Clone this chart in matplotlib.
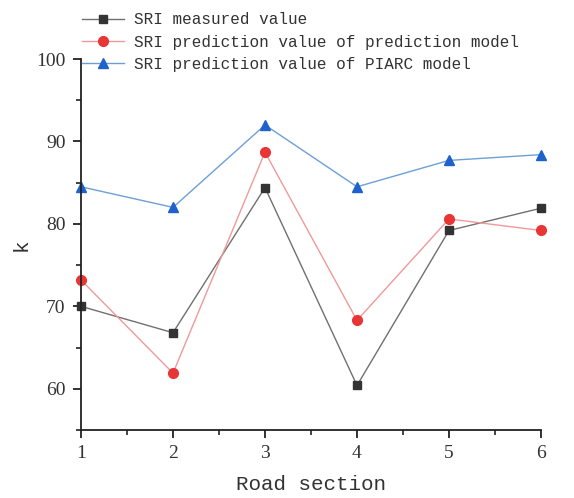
import matplotlib
matplotlib.use("Agg")
import matplotlib.pyplot as plt
from matplotlib.ticker import MultipleLocator

sections = [1, 2, 3, 4, 5, 6]
measured = [70.0, 66.8, 84.4, 60.4, 79.2, 81.9]
pred_model = [73.2, 61.9, 88.7, 68.3, 80.6, 79.2]
piarc_model = [84.5, 82.0, 92.0, 84.5, 87.7, 88.4]

labels = ["SRI measured value",
          "SRI prediction value of prediction model",
          "SRI prediction value of PIARC model"]

fig = plt.figure(figsize=(5.74, 4.98), dpi=100)
ax = fig.add_axes([81 / 574, 68 / 498, 460 / 574, 371 / 498])

ax.plot(sections, measured, color="#707070", lw=1, marker="s", ms=6,
        mfc="#333333", mec="#333333", label=labels[0], clip_on=False)
ax.plot(sections, pred_model, color="#ee9a9a", lw=1, marker="o", ms=7,
        mfc="#e83535", mec="#e83535", label=labels[1], clip_on=False)
ax.plot(sections, piarc_model, color="#6d9fd6", lw=1, marker="^", ms=7,
        mfc="#1f62cc", mec="#1f62cc", label=labels[2], clip_on=False)

ax.set_xlim(1, 6)
ax.set_ylim(55, 100)
ax.xaxis.set_major_locator(MultipleLocator(1))
ax.xaxis.set_minor_locator(MultipleLocator(0.5))
ax.yaxis.set_major_locator(MultipleLocator(10))
ax.yaxis.set_minor_locator(MultipleLocator(5))
ax.spines["top"].set_visible(False)
ax.spines["right"].set_visible(False)
for s in ["left", "bottom"]:
    ax.spines[s].set_linewidth(1.3)
    ax.spines[s].set_color("#222222")
ax.tick_params(which="major", length=6, width=1.3, direction="out", colors="#222222",
               labelsize=14, pad=5)
ax.tick_params(which="minor", length=3.5, width=1.2, direction="out", colors="#222222")
for lab in ax.get_xticklabels() + ax.get_yticklabels():
    lab.set_family("Liberation Serif")
    lab.set_color("#333333")

ax.set_xlabel("Road section", family="Liberation Mono", fontsize=15, color="#333333", labelpad=9)
ax.set_ylabel("k", family="Liberation Mono", fontsize=15, color="#333333", labelpad=4)

fig.legend(loc="upper left", bbox_to_anchor=(76 / 574, 1 - 6 / 498), frameon=False,
           prop={"family": "Liberation Mono", "size": 11.5}, handlelength=2.6,
           handletextpad=0.6, labelspacing=0.45, labelcolor="#333333", borderaxespad=0)

fig.savefig("out.png", dpi=100)
